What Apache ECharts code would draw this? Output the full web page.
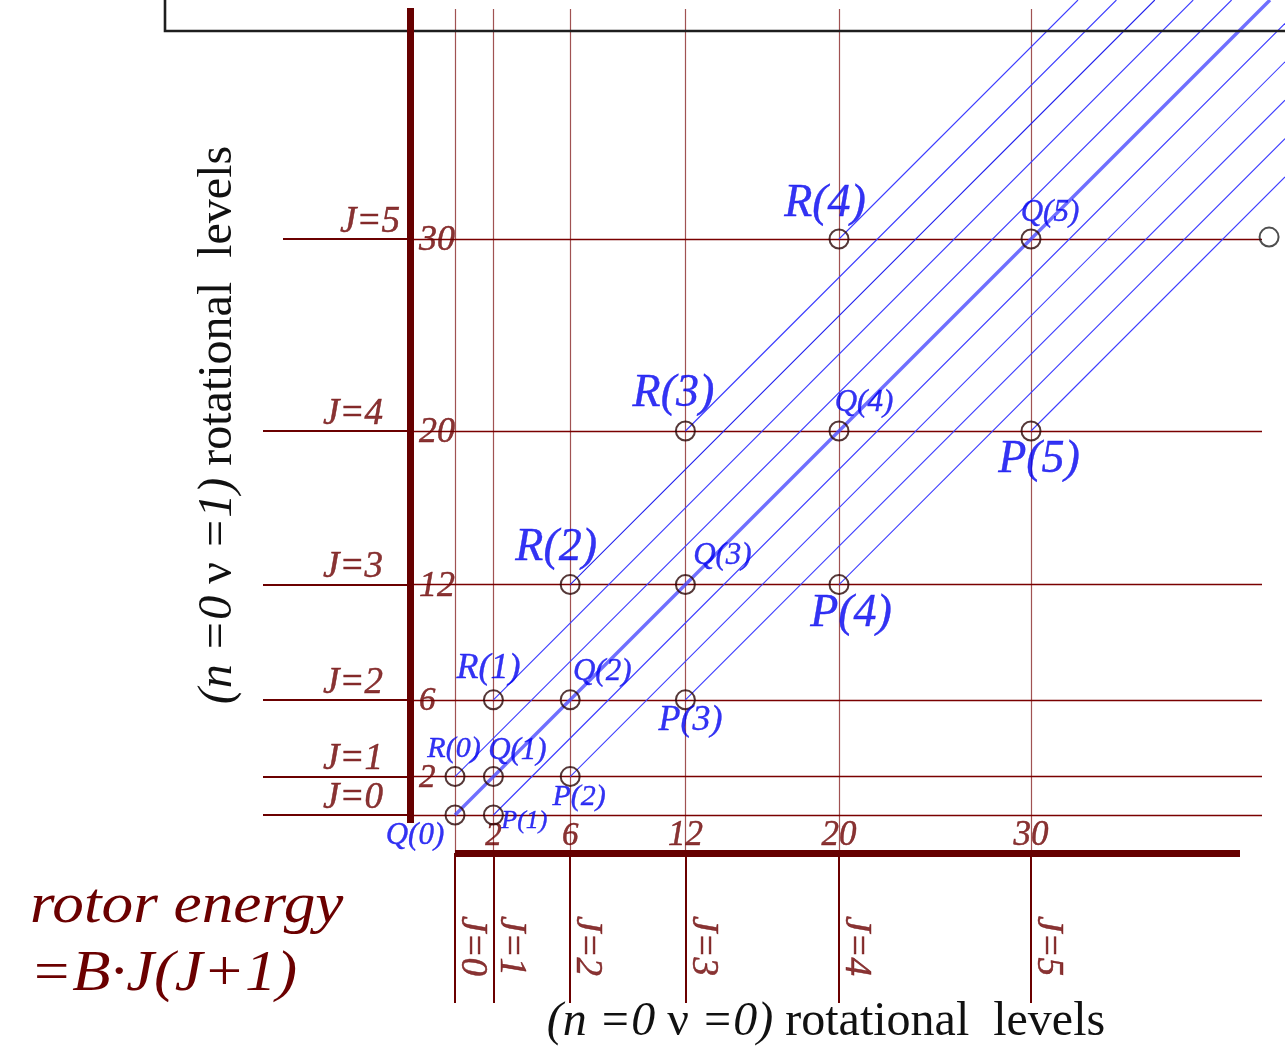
<!DOCTYPE html>
<html>
<head>
<meta charset="utf-8">
<title>rotational levels</title>
<script src="https://cdn.jsdelivr.net/npm/echarts@6/dist/echarts.min.js"></script>
<style>
html, body { margin: 0; padding: 0; background: #fff; }
#chart { width: 1285px; height: 1052px; }
</style>
</head>
<body>
<div id="chart"></div>
<script>
// rotor levels J and their energies J(J+1) (units of B)
var levelJ = [0, 1, 2, 3, 4, 5];
var levelE = [0, 2, 6, 12, 20, 30];

// transitions: [energy in v=0, energy in v=1]
var qNames = ['Q(0)', 'Q(1)', 'Q(2)', 'Q(3)', 'Q(4)', 'Q(5)'];
var qPoints = [[0, 0], [2, 2], [6, 6], [12, 12], [20, 20], [30, 30]];
var rNames = ['R(0)', 'R(1)', 'R(2)', 'R(3)', 'R(4)'];
var rPoints = [[0, 2], [2, 6], [6, 12], [12, 20], [20, 30]];
var pNames = ['P(1)', 'P(2)', 'P(3)', 'P(4)', 'P(5)', ''];
var pPoints = [[2, 0], [6, 2], [12, 6], [20, 12], [30, 20], [42.4, 30.1]];

// page layout: one energy unit = 19.2px, origin of both level sets at (455, 815)
var W = 1285, H = 1052, UNIT = 19.2, OX = 455, OY = 815;
function px2x(p) { return (p - OX) / UNIT; }
function px2y(p) { return (OY - p) / UNIT; }

var RED = '#6b0000';
var BLUE_LINE = '#3c3cff';
var FONT = '"Liberation Serif", "Times New Roman", serif';

// label offsets (px) and sizes for the transition names
var labelLook = {
    'Q(0)': { off: [-40, 21], size: 31 },
    'P(1)': { off: [31, 6], size: 26 },
    'R(0)': { off: [-1, -27], size: 30 },
    'Q(1)': { off: [24, -26], size: 31 },
    'P(2)': { off: [9, 21], size: 30 },
    'R(1)': { off: [-5, -31], size: 36 },
    'Q(2)': { off: [32, -28], size: 31 },
    'P(3)': { off: [5, 21], size: 36 },
    'R(2)': { off: [-14, -37], size: 46 },
    'Q(3)': { off: [37, -29], size: 31 },
    'P(4)': { off: [12, 29], size: 46 },
    'R(3)': { off: [-12, -37], size: 46 },
    'Q(4)': { off: [25, -28], size: 31 },
    'P(5)': { off: [8, 29], size: 46 },
    'R(4)': { off: [-14, -35], size: 46 },
    'Q(5)': { off: [19, -26], size: 31 }
};

function seg(a, b, color, width) {
    return { coords: [a, b], lineStyle: { color: color, width: width, opacity: 1 } };
}

// level lines
var levelSegs = [];
levelE.forEach(function (e) {
    levelSegs.push(seg([e, px2y(9)], [e, px2y(853)], '#a05252', 1.2));
});
levelE.forEach(function (e, i) {
    var start = levelJ[i] === 5 ? px2x(283) : px2x(263);
    levelSegs.push(seg([start, e], [px2x(410), e], RED, 2.2));
    levelSegs.push(seg([px2x(410), e], [px2x(1262), e], '#7a0000', 1.3));
    levelSegs.push(seg([e, px2y(853)], [e, px2y(1003)], RED, 2));
});

// transition rays going up-right at 45 degrees, stopped at the page edge
function ray(p, color, width) {
    var t = Math.min(px2y(0) - p[1], px2x(W) - p[0]);
    return seg(p, [p[0] + t, p[1] + t], color, width);
}
var raySegs = [];
rPoints.forEach(function (p, i) {
    raySegs.push(ray(p, i === 2 ? '#2020ee' : BLUE_LINE, 1.1));
});
pPoints.forEach(function (p, i) {
    if (pNames[i]) raySegs.push(ray(p, BLUE_LINE, 1.1));
});
raySegs.push(ray(qPoints[0], 'rgba(70,70,255,0.78)', 3.4));

// thick axes
var axisSegs = [
    seg([px2x(410), px2y(8)], [px2x(410), px2y(823)], '#660000', 7),
    seg([px2x(455), px2y(853)], [px2x(1240), px2y(853)], '#660000', 7)
];

function linesSeries(data, z) {
    return {
        type: 'lines', coordinateSystem: 'cartesian2d', data: data,
        silent: true, z: z, polyline: false, effect: { show: false },
        lineStyle: { opacity: 1 }
    };
}

var series = [
    linesSeries(levelSegs, 1),
    linesSeries(raySegs, 3),
    linesSeries(axisSegs, 6)
];

// circles + names
var pts = [];
function addPts(names, points) {
    points.forEach(function (p, i) {
        var look = labelLook[names[i]];
        pts.push({
            name: names[i],
            value: p,
            itemStyle: names[i] ? {} : { borderColor: '#222' },
            label: look ? {
                show: true, formatter: names[i], position: 'inside',
                offset: look.off, fontSize: look.size
            } : { show: false }
        });
    });
}
addPts(qNames, qPoints);
addPts(rNames, rPoints);
addPts(pNames, pPoints);

series.push({
    type: 'scatter', data: pts, symbol: 'circle', symbolSize: 19, z: 8, silent: true,
    itemStyle: { color: 'rgba(0,0,0,0)', borderColor: '#2a0606', borderWidth: 2 },
    label: {
        color: '#0000f0', fontStyle: 'italic', fontFamily: FONT,
        align: 'center', verticalAlign: 'middle',
        textBorderColor: '#0000f0', textBorderWidth: 0.4
    }
});

// tick values and J names
function textSeries(data, label) {
    return {
        type: 'scatter', data: data, symbolSize: 1, z: 7, silent: true,
        itemStyle: { color: 'rgba(0,0,0,0)' },
        label: Object.assign({
            show: true, position: 'inside', color: RED, fontStyle: 'italic',
            fontFamily: FONT, verticalAlign: 'middle',
            textBorderColor: RED, textBorderWidth: 0.5
        }, label)
    };
}
var ticks = levelE.slice(1);
series.push(textSeries(ticks.map(function (e) {
    return { value: [px2x(419), e], label: { formatter: String(e), fontSize: e < 10 ? 33 : 36 } };
}), { align: 'left', offset: [0, 2] }));
series.push(textSeries(ticks.map(function (e) {
    return { value: [e, px2y(836)], label: { formatter: String(e), fontSize: e < 10 ? 33 : 35 } };
}), { align: 'center' }));
series.push(textSeries(levelJ.map(function (j, i) {
    return { value: [px2x(j === 5 ? 400 : 383), levelE[i]], label: { formatter: 'J=' + j } };
}), { align: 'right', offset: [0, -17], fontSize: 37 }));
series.push(textSeries(levelJ.map(function (j, i) {
    return { value: [levelE[i] + 17 / UNIT, px2y(946)], label: { formatter: 'J=' + j } };
}), { align: 'center', rotate: -90, fontSize: 37 }));

var titleRich = {
    i: { fontStyle: 'italic', fontSize: 48, fontFamily: FONT, fill: '#111' },
    u: { fontSize: 48, fontFamily: FONT, fill: '#111' }
};

var chart = echarts.init(document.getElementById('chart'));
chart.setOption({
    animation: false,
    backgroundColor: '#fff',
    grid: { left: 0, right: 0, top: 0, bottom: 0 },
    xAxis: { type: 'value', min: px2x(0), max: px2x(W), show: false },
    yAxis: { type: 'value', min: px2y(H), max: px2y(0), show: false },
    graphic: [
        {
            type: 'polyline', z: 4, silent: true,
            shape: { points: [[165, -5], [165, 31], [1295, 31]] },
            style: { stroke: '#1e1e1e', lineWidth: 2.6, fill: null }
        },
        {
            type: 'text', x: 218, y: 425, rotation: Math.PI / 2, z: 10,
            style: {
                text: '{i|(n =0 }{u|ν}{i| =1)}{u| rotational  levels}',
                rich: titleRich, textAlign: 'center', textVerticalAlign: 'middle'
            }
        },
        {
            type: 'text', x: 826, y: 1022, z: 10,
            style: {
                text: '{i|(n =0 }{u|ν}{i| =0)}{u| rotational  levels}',
                rich: titleRich, textAlign: 'center', textVerticalAlign: 'middle'
            }
        },
        {
            type: 'text', x: 30, y: 907, z: 10, scaleX: 1.13,
            style: {
                text: 'rotor energy', fill: RED, textAlign: 'left', textVerticalAlign: 'middle',
                font: 'italic 56px ' + FONT
            }
        },
        {
            type: 'text', x: 30, y: 975, z: 10, scaleX: 1.08,
            style: {
                text: '=B·J(J+1)', fill: RED, textAlign: 'left', textVerticalAlign: 'middle',
                font: 'italic 58px ' + FONT
            }
        }
    ],
    series: series
});
</script>
</body>
</html>
